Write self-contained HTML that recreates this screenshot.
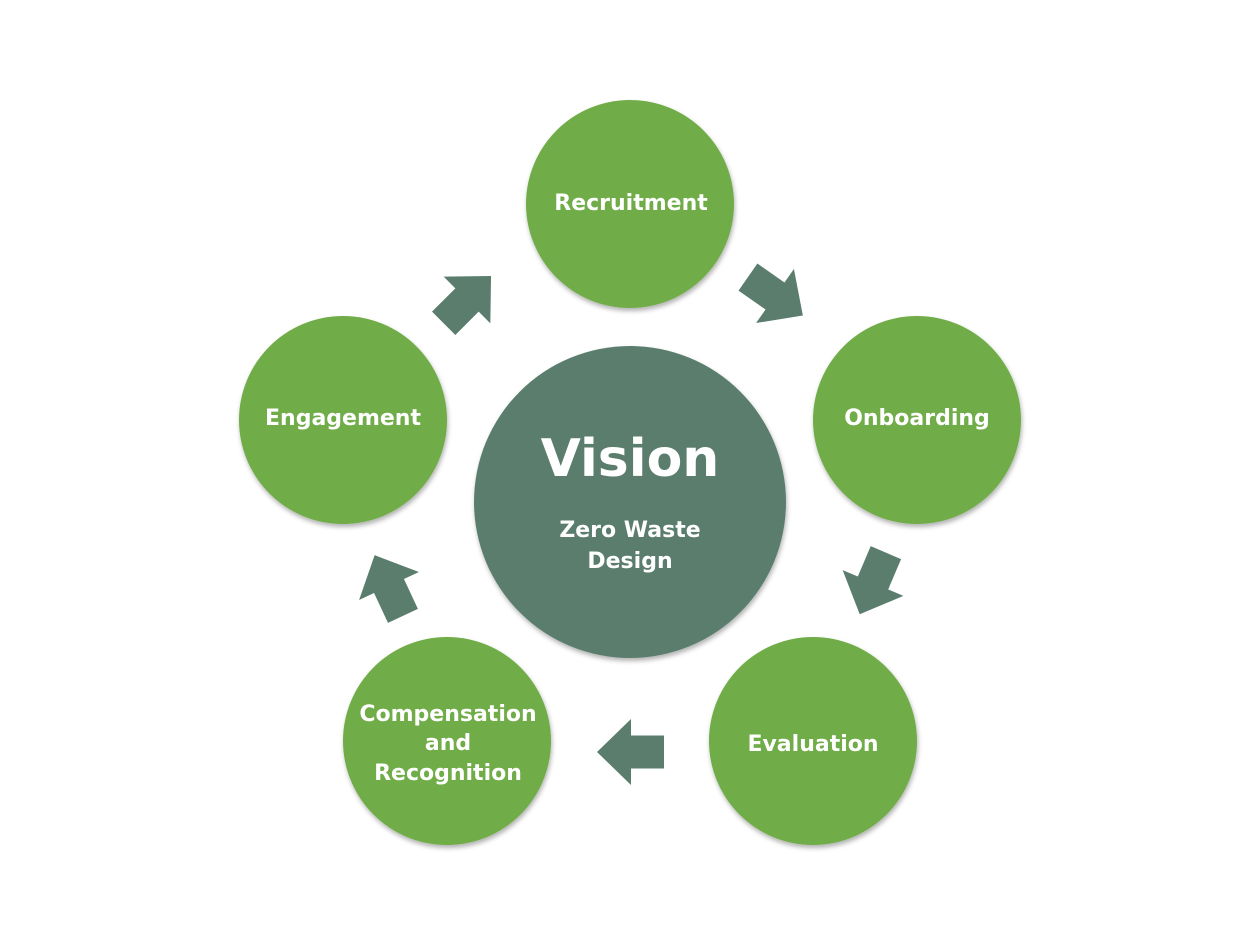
<!DOCTYPE html>
<html><head><style>
body{margin:0;background:#fff}
svg text{font-family:"DejaVu Sans","Liberation Sans",sans-serif;font-weight:bold;fill:#fff;text-anchor:middle}
</style></head><body>
<svg width="1260" height="945" viewBox="0 0 1260 945" xmlns="http://www.w3.org/2000/svg">
<defs>
<filter id="sh" x="-20%" y="-20%" width="140%" height="140%"><feDropShadow dx="1" dy="3" stdDeviation="2.5" flood-color="#000" flood-opacity="0.3"/></filter>
<polygon id="ar" points="-33,-16.5 0,-16.5 0,-33 34,0 0,33 0,16.5 -33,16.5" fill="#5a7d6e"/>
</defs>
<g filter="url(#sh)">
<circle cx="630" cy="502" r="156" fill="#5a7d6e"/>
<circle cx="630" cy="204" r="104" fill="#70ac47"/>
<circle cx="917" cy="420" r="104" fill="#70ac47"/>
<circle cx="813" cy="741" r="104" fill="#70ac47"/>
<circle cx="447" cy="741" r="104" fill="#70ac47"/>
<circle cx="343" cy="420" r="104" fill="#70ac47"/>
</g>
<use href="#ar" transform="translate(631,752) rotate(180)"/>
<use href="#ar" transform="translate(467,300) rotate(-45)"/>
<use href="#ar" transform="translate(775,296) rotate(35)"/>
<use href="#ar" transform="translate(873,583) rotate(113)"/>
<use href="#ar" transform="translate(389,586) rotate(-115)"/>
<text x="630" y="476" font-size="52">Vision</text>
<text x="630" y="537" font-size="22">Zero Waste</text>
<text x="630" y="568" font-size="22">Design</text>
<text x="631" y="210" font-size="22">Recruitment</text>
<text x="917" y="425" font-size="22">Onboarding</text>
<text x="813" y="751" font-size="22">Evaluation</text>
<text x="343" y="425" font-size="22">Engagement</text>
<text x="448" y="721" font-size="22">Compensation</text>
<text x="448" y="750" font-size="22">and</text>
<text x="448" y="780" font-size="22">Recognition</text>
</svg>
</body></html>
